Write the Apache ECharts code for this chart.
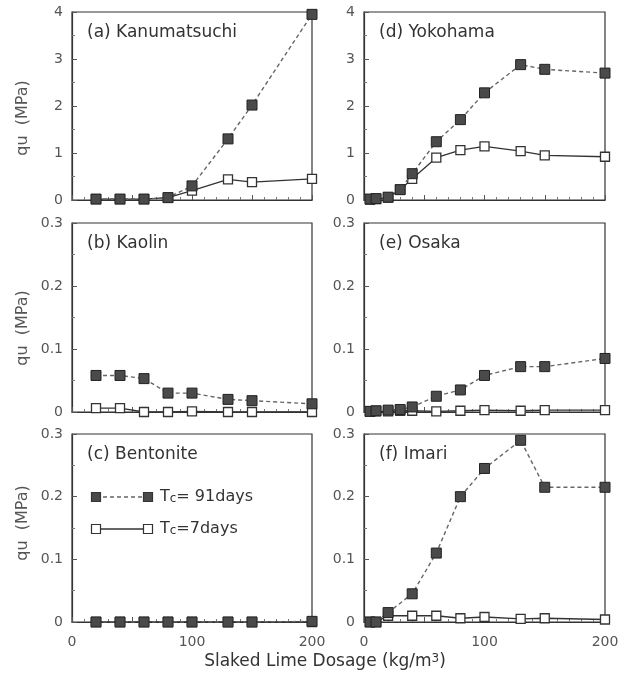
<!DOCTYPE html>
<html>
<head>
<meta charset="utf-8">
<script src="https://cdn.jsdelivr.net/npm/echarts@6/dist/echarts.min.js"></script>
<style>
  html, body { margin: 0; padding: 0; background: #fff; }
  #chart { width: 634px; height: 679px; }
</style>
</head>
<body>
<div id="chart"></div>
<script>
// 投加量 (kg/m3)
var doseA = [20, 40, 60, 80, 100, 130, 150, 200];
var doseD = [5, 10, 20, 30, 40, 60, 80, 100, 130, 150, 200];
var doseF = [5, 10, 20, 40, 60, 80, 100, 130, 150, 200];

// (a) Kanumatsuchi
var kanu91 = [0.02, 0.02, 0.02, 0.05, 0.3, 1.3, 2.02, 3.95];
var kanu7 = [0.02, 0.02, 0.02, 0.05, 0.2, 0.44, 0.38, 0.45];
// (b) Kaolin
var kaolin91 = [0.058, 0.058, 0.053, 0.03, 0.03, 0.02, 0.018, 0.013];
var kaolin7 = [0.006, 0.006, 0, 0, 0.001, 0, 0, 0];
// (c) Bentonite
var bento91 = [0, 0, 0, 0, 0, 0, 0, 0.001];
var bento7 = [0, 0, 0, 0, 0, 0, 0, 0];
// (d) Yokohama
var yoko91 = [0.02, 0.03, 0.06, 0.22, 0.56, 1.24, 1.71, 2.28, 2.88, 2.78, 2.7];
var yoko7 = [0.01, 0.02, 0.05, 0.22, 0.45, 0.9, 1.06, 1.14, 1.04, 0.95, 0.92];
// (e) Osaka
var osaka91 = [0.001, 0.002, 0.003, 0.004, 0.008, 0.025, 0.035, 0.058, 0.072, 0.072, 0.085];
var osaka7 = [0.001, 0.001, 0.001, 0.002, 0.002, 0.001, 0.002, 0.003, 0.002, 0.003, 0.003];
// (f) Imari
var imari91 = [0, 0, 0.015, 0.045, 0.11, 0.2, 0.245, 0.29, 0.215, 0.215];
var imari7 = [0, 0, 0.01, 0.01, 0.01, 0.006, 0.008, 0.005, 0.006, 0.004];

var panelTitles = ['(a) Kanumatsuchi', '(b) Kaolin', '(c) Bentonite', '(d) Yokohama', '(e) Osaka', '(f) Imari'];
var yMax = [4, 0.3, 0.3, 4, 0.3, 0.3];
var yStep = [1, 0.1, 0.1, 1, 0.1, 0.1];
var xTicks = [0, 100, 200];

var FONT = '"DejaVu Sans", Verdana, sans-serif';
var INK = '#333';

//面板位置
var cols = [{ left: 72, width: 240 }, { left: 364, width: 241 }];
var rows = [{ top: 12, height: 188 }, { top: 223, height: 189 }, { top: 434, height: 188 }];

function zip(xs, ys) {
    return xs.map(function (x, i) { return [x, ys[i]]; });
}

var grids = [], xAxes = [], yAxes = [], titles = [];
for (var i = 0; i < 6; i++) {
    var c = cols[Math.floor(i / 3)], r = rows[i % 3];
    var bottomRow = (i % 3) === 2;
    grids.push({
        left: c.left, top: r.top, width: c.width, height: r.height,
        show: true, borderColor: INK, borderWidth: 1.2, backgroundColor: 'transparent'
    });
    xAxes.push({
        gridIndex: i, type: 'value', min: 0, max: 200, interval: 50,
        axisLine: { lineStyle: { color: INK, width: 1.2 } },
        axisTick: { inside: true, length: 5, lineStyle: { color: '#555' } },
        minorTick: { show: true, splitNumber: 5, length: 3, lineStyle: { color: '#777' } },
        splitLine: { show: false },
        axisLabel: {
            show: bottomRow, margin: 13, color: '#555', fontSize: 14, fontFamily: FONT,
            formatter: function (v) { return xTicks.indexOf(v) >= 0 ? String(v) : ''; }
        }
    });
    yAxes.push({
        gridIndex: i, type: 'value', min: 0, max: yMax[i], interval: yStep[i],
        axisLine: { lineStyle: { color: INK, width: 1.2 } },
        axisTick: { inside: true, length: 5, lineStyle: { color: '#555' } },
        minorTick: { show: true, splitNumber: 2, length: 3, lineStyle: { color: '#777' } },
        splitLine: { show: false },
        axisLabel: {
            margin: 9, color: '#555', fontSize: 14, fontFamily: FONT,
            formatter: function (v) { return v === 0 ? '0' : String(+v.toFixed(2)); }
        }
    });
    titles.push({
        text: panelTitles[i], left: c.left + 10, top: r.top + 7,
        textStyle: { fontSize: 17, fontWeight: 'normal', color: INK, fontFamily: FONT }
    });
}

function s91(idx, xs, ys) {
    return {
        type: 'line', xAxisIndex: idx, yAxisIndex: idx, data: zip(xs, ys), z: 3,
        symbol: 'rect', symbolSize: 10, showSymbol: true,
        lineStyle: { color: '#666', width: 1.4, type: [4, 3] },
        itemStyle: { color: '#4a4a4a', borderColor: '#222', borderWidth: 1 }
    };
}
function s7(idx, xs, ys) {
    return {
        type: 'line', xAxisIndex: idx, yAxisIndex: idx, data: zip(xs, ys), z: 2,
        symbol: 'rect', symbolSize: 9, showSymbol: true,
        lineStyle: { color: '#333', width: 1.3 },
        itemStyle: { color: '#fff', borderColor: '#333', borderWidth: 1.3 }
    };
}

var series = [
    s7(0, doseA, kanu7), s91(0, doseA, kanu91),
    s7(1, doseA, kaolin7), s91(1, doseA, kaolin91),
    s7(2, doseA, bento7), s91(2, doseA, bento91),
    s7(3, doseD, yoko7), s91(3, doseD, yoko91),
    s7(4, doseD, osaka7), s91(4, doseD, osaka91),
    s7(5, doseF, imari7), s91(5, doseF, imari91)
];

//y軸標題與圖例
var yTitleY = [118, 328, 523];
var graphics = yTitleY.map(function (y) {
    return {
        type: 'text', x: 23, y: y, rotation: Math.PI / 2,
        style: { text: 'qu  (MPa)', fontSize: 16, fontFamily: FONT, fill: '#555', align: 'center', verticalAlign: 'middle' }
    };
});
graphics.push({
    type: 'text', x: 325, y: 662,
    style: {
        text: '{a|Slaked Lime Dosage (kg/m}{s|3}{a|)}', align: 'center', verticalAlign: 'middle',
        rich: {
            a: { fontSize: 17, fontFamily: FONT, fill: INK },
            s: { fontSize: 12, fontFamily: FONT, fill: INK, verticalAlign: 'top', padding: [0, 0, 6, 0] }
        }
    }
});
// legend rows in panel (c)
var legRows = [
    { y: 497, dash: [4, 3], fill: '#4a4a4a', label: '{t|T}{c|c}{t|= 91days}' },
    { y: 529, dash: null, fill: '#fff', label: '{t|T}{c|c}{t|=7days}' }
];
legRows.forEach(function (lr) {
    graphics.push({
        type: 'line', shape: { x1: 96, y1: lr.y, x2: 148, y2: lr.y },
        style: { stroke: lr.dash ? '#666' : '#333', lineWidth: 1.3, lineDash: lr.dash }
    });
    [96, 148].forEach(function (x) {
        graphics.push({
            type: 'rect', shape: { x: x - 4.5, y: lr.y - 4.5, width: 9, height: 9 },
            style: { fill: lr.fill, stroke: '#333', lineWidth: 1.2 }
        });
    });
    graphics.push({
        type: 'text', x: 160, y: lr.y,
        style: {
            text: lr.label, verticalAlign: 'middle',
            rich: {
                t: { fontSize: 16, fontFamily: FONT, fill: INK },
                c: { fontSize: 12, fontFamily: FONT, fill: INK, padding: [4, 0, 0, 0] }
            }
        }
    });
});

var myChart = echarts.init(document.getElementById('chart'));
myChart.setOption({
    animation: false,
    backgroundColor: '#fff',
    title: titles,
    grid: grids,
    xAxis: xAxes,
    yAxis: yAxes,
    series: series,
    graphic: graphics
});
</script>
</body>
</html>
